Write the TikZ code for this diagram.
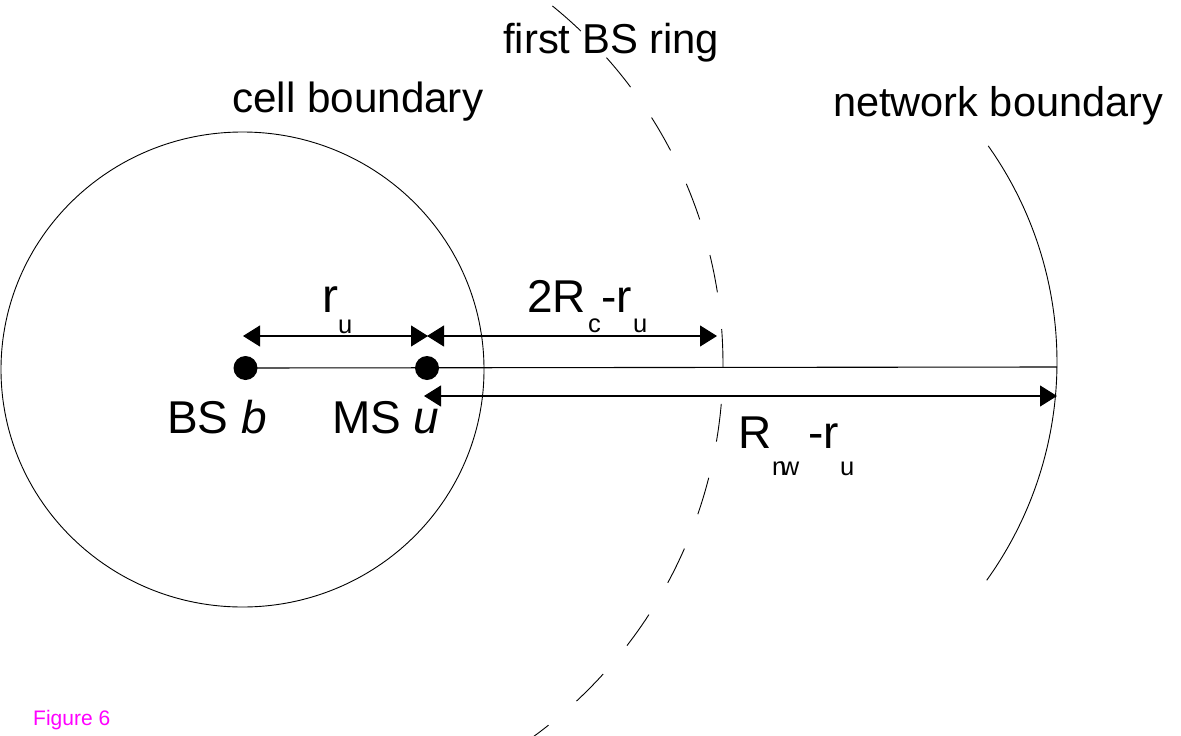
\documentclass[tikz,border=0pt]{standalone}
\usepackage{fontspec}
\setmainfont{Liberation Sans}
\usetikzlibrary{arrows.meta}
\definecolor{figmagenta}{RGB}{255,0,255}
\begin{document}
\begin{tikzpicture}[x=1pt,y=-1pt,
  lbl/.style={inner sep=0pt, anchor=base west, font=\fontsize{46}{50}\selectfont},
  sub/.style={inner sep=0pt, anchor=base west, font=\fontsize{25.5}{28}\selectfont},
  title/.style={inner sep=0pt, anchor=base west},
  dot/.style={circle, fill=black, draw=none, inner sep=0pt, minimum size=24pt},
  ring/.style={line width=0.9pt},
  dimline/.style={line width=1.1pt, {Triangle[length=17pt,width=21pt]}-{Triangle[length=17pt,width=21pt]}},
]
\useasboundingbox (0,0) rectangle (1181,736);

% cell boundary
\draw[ring] (242.5,369.5) ellipse[x radius=241.5, y radius=237.5];

% first BS ring (dashed)
\coordinate (ringc) at (262,364);
\draw[ring, dash pattern=on 38pt off 37pt] (ringc) ++(0.37:461) arc[start angle=0.37, end angle=-53, radius=461];
\draw[ring, dash pattern=on 38pt off 37pt, dash phase=38pt] (ringc) ++(0.37:461) arc[start angle=0.37, end angle=54, radius=461];

% network boundary
\coordinate (nwc) at (683,362);
\draw[ring] (nwc) ++(-35.3:374) arc[start angle=-35.3, end angle=35.7, radius=374];

% BS and MS
\coordinate (nwend) at (1057,367);
\node[dot] (bs) at (245.5,368) {};
\node[dot] (ms) at (427,368) {};
\draw[line width=1.1pt] (bs.center) -- (nwend);

% dimension arrows
\coordinate (ruL) at (243,336);
\coordinate (ruR) at (428,336);
\coordinate (rcL) at (427,336);
\coordinate (rcR) at (717,336);
\coordinate (nwL) at (424,396);
\coordinate (nwR) at (1057,396);
\draw[dimline] (ruL) -- (ruR);
\draw[dimline] (rcL) -- (rcR);
\draw[dimline] (nwL) -- (nwR);

% labels
\node[lbl, font=\fontsize{48}{52}\selectfont] (r1) at (322,312) {r};
\node[sub] (r1s) at (338,333) {u};
\node[lbl] (c1) at (527,312) {2R};
\node[sub] (c1s) at (588,332) {c};
\node[lbl] (c2) at (601,312) {-r};
\node[sub] (c2s) at (633,332) {u};
\node[lbl] (n1) at (738,448) {R};
\node[sub] (n1s) at (772,475) {n\kern-5.5pt w};
\node[lbl] (n2) at (808,448) {-r};
\node[sub] (n2s) at (840,475) {u};
\node[lbl] (bsl) at (167,433) {BS \textit{b}};
\node[lbl] (msl) at (332,433) {MS \textit{u}};
\node[title, font=\fontsize{42.2}{46}\selectfont] (cb) at (232,112) {cell boundary};
\node[title, font=\fontsize{41.8}{46}\selectfont] (fr) at (503,53) {first BS ring};
\node[title, font=\fontsize{41.5}{46}\selectfont] (nb) at (833,116) {network boundary};
\node[title, font=\fontsize{21}{24}\selectfont, text=figmagenta] (fig) at (33,725) {Figure 6};
\end{tikzpicture}
\end{document}
